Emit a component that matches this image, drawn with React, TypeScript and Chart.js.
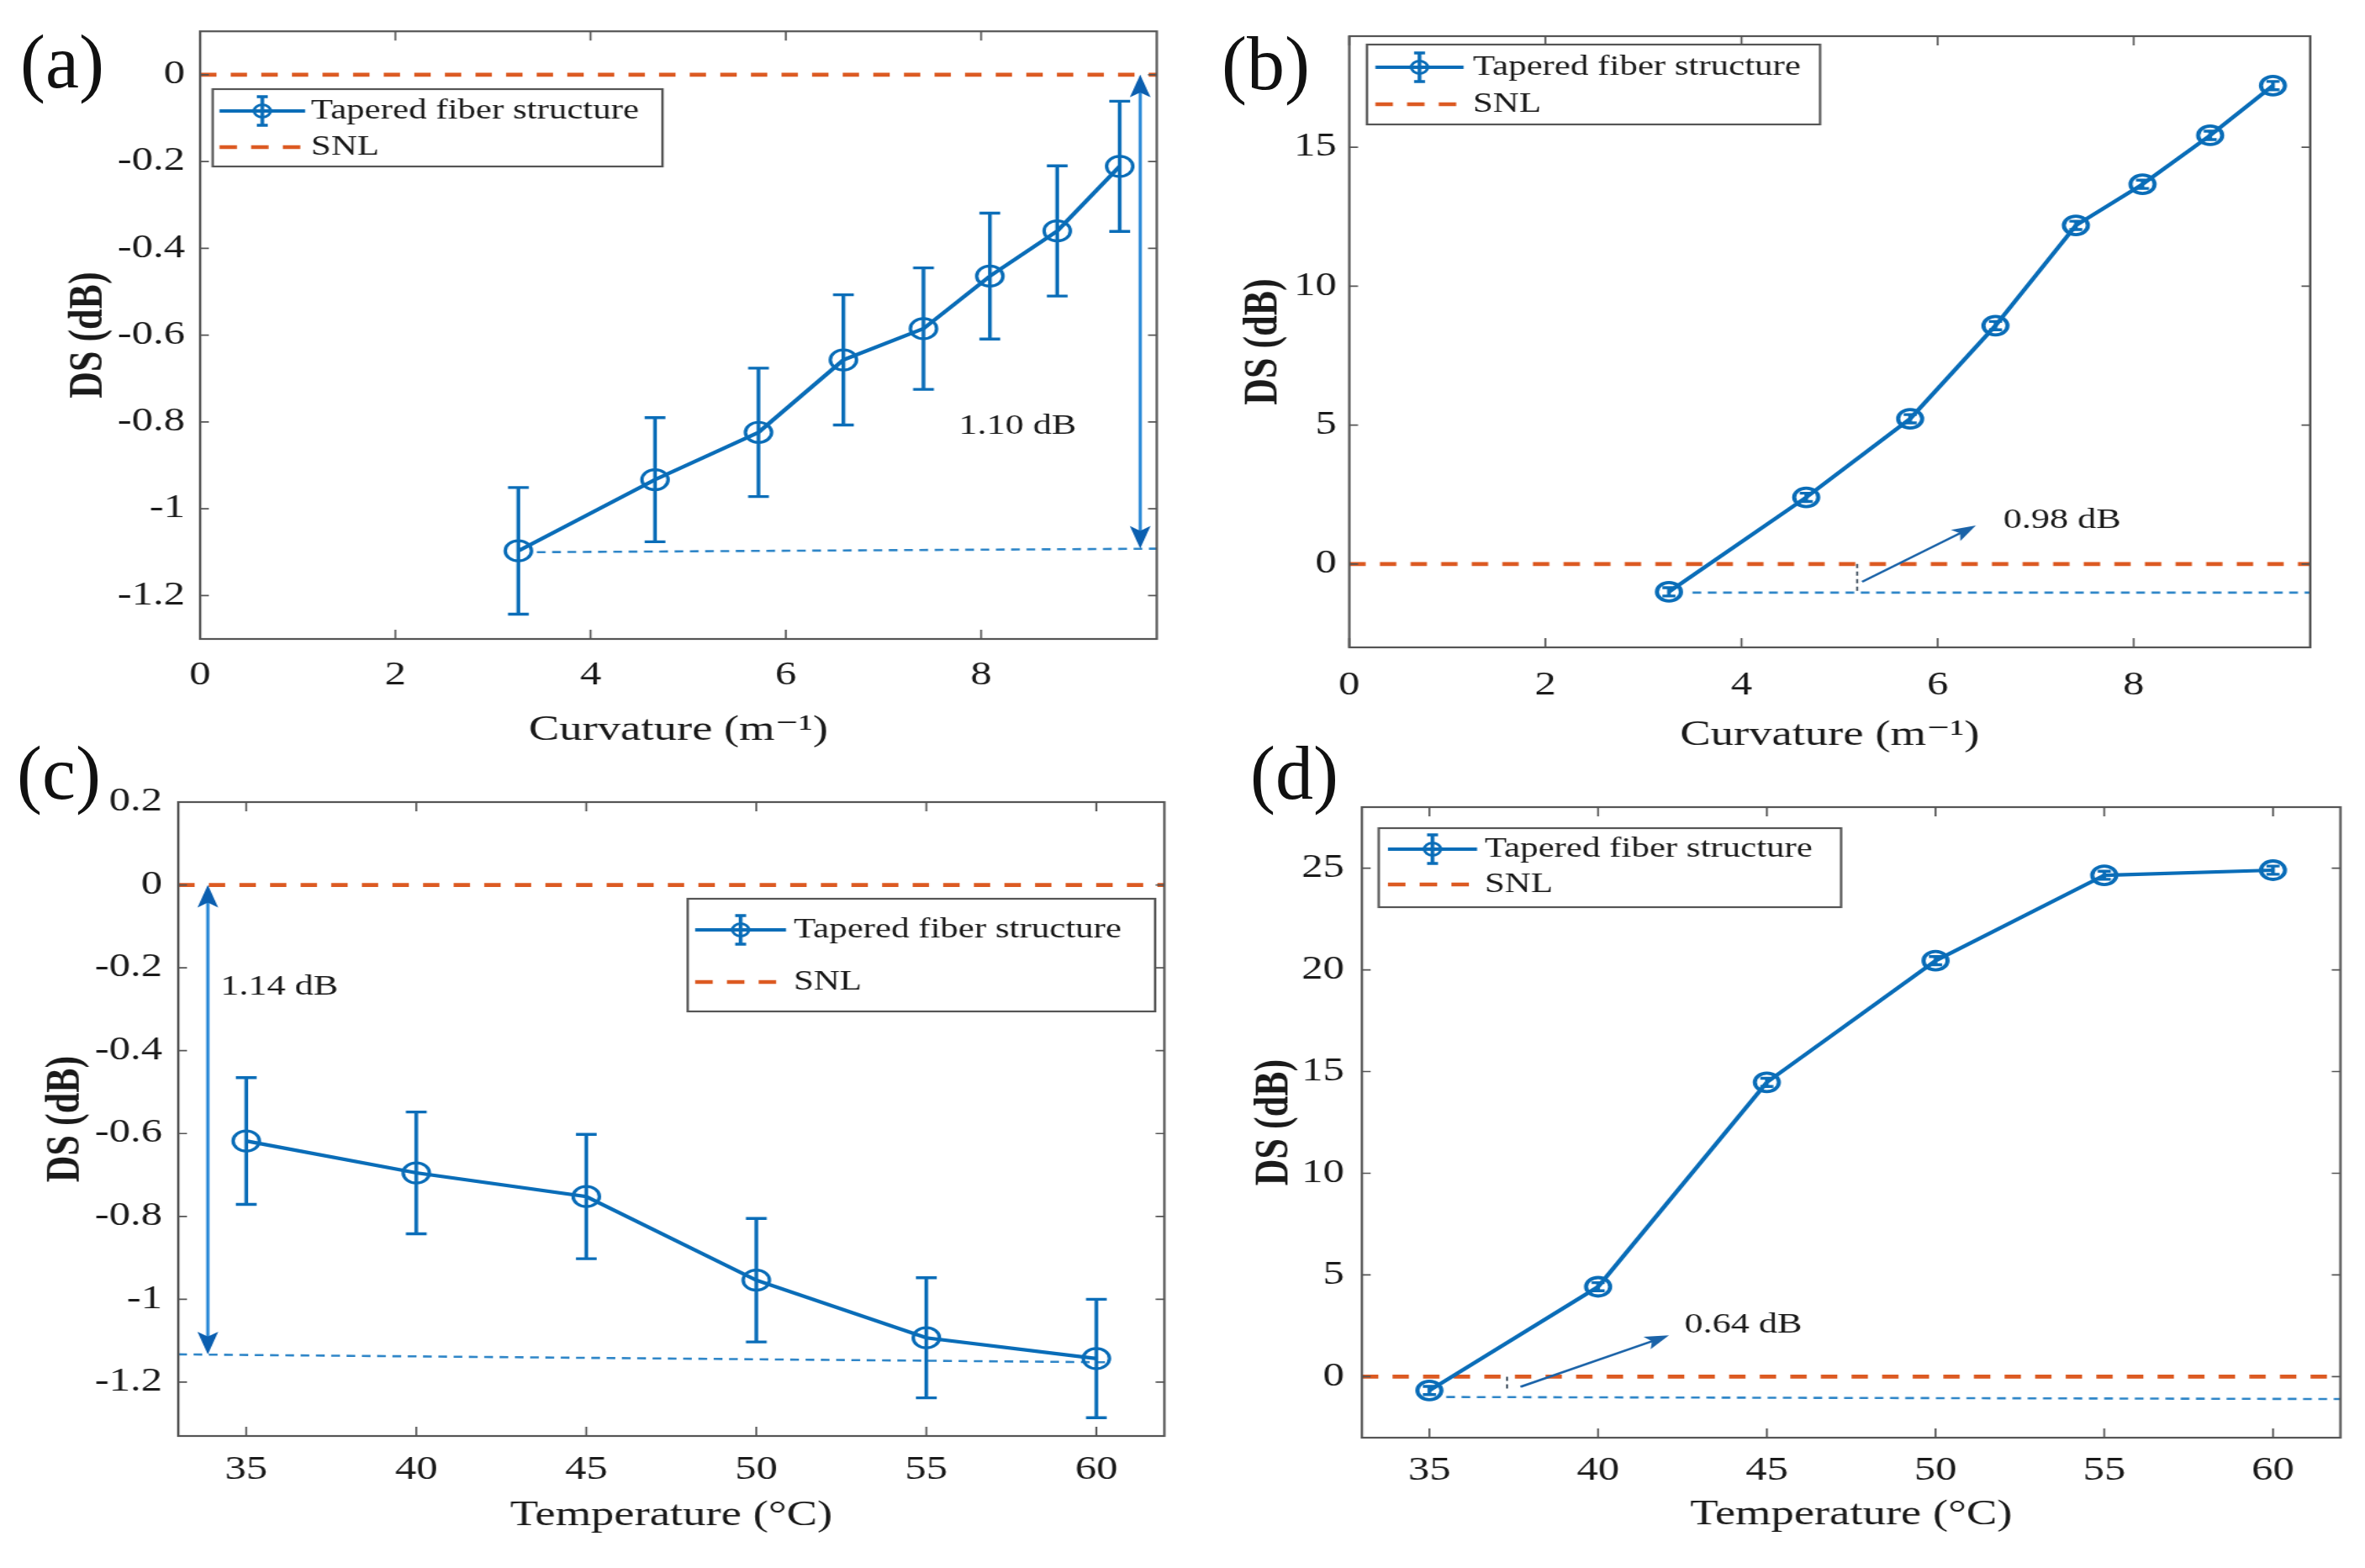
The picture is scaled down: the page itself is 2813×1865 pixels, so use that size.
import React, { useEffect, useRef } from 'react';
import { Chart, registerables } from 'chart.js';

Chart.register(...registerables);

// ---------- page geometry (the reference is stretched horizontally) ----------
const PAGE_W = 2813;
const PAGE_H = 1865;
const SX = 1.3;
const CW = Math.round(PAGE_W / SX);

const FONT = "'Liberation Serif', 'Times New Roman', 'DejaVu Serif', serif";
const TEXT = '#1a1a1a';
const BOX = '#555555';
const BLUE = '#0a6db8';
const BLUE_DASH = '#2f86c8';
const ORANGE = '#dc5a22';

// ---------- data ----------
const curvature = [3.26, 4.66, 5.72, 6.59, 7.41, 8.09, 8.78, 9.42];
const dsCurvatureA = [-1.097, -0.933, -0.824, -0.657, -0.585, -0.464, -0.36, -0.211];
const errCurvatureA = [0.146, 0.143, 0.148, 0.15, 0.14, 0.145, 0.15, 0.15];
const dsCurvatureB = [-1.0, 2.4, 5.23, 8.58, 12.19, 13.67, 15.43, 17.22];
const errCurvatureB = [0.15, 0.15, 0.15, 0.15, 0.15, 0.15, 0.15, 0.15];

const temperature = [35, 40, 45, 50, 55, 60];
const dsTemperatureC = [-0.618, -0.695, -0.752, -0.954, -1.093, -1.143];
const errTemperatureC = [0.153, 0.147, 0.15, 0.149, 0.145, 0.143];
const dsTemperatureD = [-0.68, 4.42, 14.47, 20.45, 24.65, 24.9];
const errTemperatureD = [0.2, 0.2, 0.2, 0.2, 0.2, 0.2];

const curvatureTicks = [0, 2, 4, 6, 8];
const temperatureTicks = [35, 40, 45, 50, 55, 60];
const yTicksA = [-1.2, -1, -0.8, -0.6, -0.4, -0.2, 0];
const yTicksB = [0, 5, 10, 15];
const yTicksC = [-1.2, -1, -0.8, -0.6, -0.4, -0.2, 0, 0.2];
const yTicksD = [0, 5, 10, 15, 20, 25];

const snlLevel = 0;
const baselineAx = [3.45, 9.8];
const baselineAy = [-1.1, -1.092];
const baselineBx = [3.5, 9.8];
const baselineBy = [-1.03, -1.03];
const baselineCx = [33, 60.3];
const baselineCy = [-1.133, -1.152];
const baselineDx = [35.5, 62];
const baselineDy = [-1.0, -1.1];

const seriesLabel = 'Tapered fiber structure';
const snlLabel = 'SNL';

// ---------- types ----------
type Annot =
  | { kind: 'arrow'; x0: number; y0: number; x1: number; y1: number; both: boolean; color: string; head: string; width: number; headLen: number; headW: number }
  | { kind: 'seg'; x0: number; y0: number; x1: number; y1: number; color: string; width: number; dash: number[] }
  | { kind: 'text'; x: number; y: number; text: string };

interface PanelDef {
  id: string;
  label: string;
  labelLeft: number;
  labelBaseline: number;
  xs: number[];
  ys: number[];
  errs: number[];
  capW: number;
  markerR: number;
  markerW: number;
  xMin: number;
  xMax: number;
  yMin: number;
  yMax: number;
  xTicks: number[];
  yTicks: number[];
  plot: { l: number; r: number; t: number; b: number };
  xTitle: string;
  yTitle: string;
  xTitleCY: number;
  yTitleCX: number;
  xTickGap: number;
  yTickGap: number;
  baseX: number[];
  baseY: number[];
  legend: { l: number; t: number; r: number; b: number; row1: number; row2: number; lineL: number; lineR: number; textL: number };
  annots: Annot[];
}

const panels: PanelDef[] = [
  {
    id: 'a', label: '(a)', labelLeft: 24, labelBaseline: 104,
    xs: curvature, ys: dsCurvatureA, errs: errCurvatureA, capW: 9.5, markerR: 12, markerW: 3.2,
    xMin: 0, xMax: 9.8, yMin: -1.3, yMax: 0.1,
    xTicks: curvatureTicks, yTicks: yTicksA,
    plot: { l: 238, r: 1376, t: 37, b: 760 },
    xTitle: 'Curvature (m\u207B\u00B9)', yTitle: 'DS (dB)', xTitleCY: 869, yTitleCX: 106,
    xTickGap: 20, yTickGap: 18,
    baseX: baselineAx, baseY: baselineAy,
    legend: { l: 253, t: 106, r: 788, b: 198, row1: 132, row2: 175, lineL: 261, lineR: 363, textL: 370 },
    annots: [
      { kind: 'arrow', x0: 9.63, y0: 0, x1: 9.63, y1: -1.092, both: true, color: '#2b8ad8', head: '#0b5fb0', width: 3, headLen: 27, headW: 9.5 },
      { kind: 'text', x: 7.77, y: -0.81, text: '1.10 dB' },
    ],
  },
  {
    id: 'b', label: '(b)', labelLeft: 1453, labelBaseline: 106,
    xs: curvature, ys: dsCurvatureB, errs: errCurvatureB, capW: 6, markerR: 11, markerW: 3.8,
    xMin: 0, xMax: 9.8, yMin: -3, yMax: 19,
    xTicks: curvatureTicks, yTicks: yTicksB,
    plot: { l: 1605, r: 2748, t: 43, b: 770 },
    xTitle: 'Curvature (m\u207B\u00B9)', yTitle: 'DS (dB)', xTitleCY: 875, yTitleCX: 1503,
    xTickGap: 22, yTickGap: 15,
    baseX: baselineBx, baseY: baselineBy,
    legend: { l: 1626, t: 53, r: 2165, b: 148, row1: 80, row2: 124, lineL: 1636, lineR: 1741, textL: 1752 },
    annots: [
      { kind: 'seg', x0: 5.18, y0: 0, x1: 5.18, y1: -1.03, color: '#3a4a5a', width: 1.8, dash: [5, 4] },
      { kind: 'arrow', x0: 5.23, y0: -0.64, x1: 6.39, y1: 1.39, both: false, color: '#1b63a8', head: '#1b63a8', width: 2.6, headLen: 22, headW: 8 },
      { kind: 'text', x: 6.67, y: 1.58, text: '0.98 dB' },
    ],
  },
  {
    id: 'c', label: '(c)', labelLeft: 20, labelBaseline: 950,
    xs: temperature, ys: dsTemperatureC, errs: errTemperatureC, capW: 9.5, markerR: 12, markerW: 3.2,
    xMin: 33, xMax: 62, yMin: -1.33, yMax: 0.2,
    xTicks: temperatureTicks, yTicks: yTicksC,
    plot: { l: 212, r: 1385, t: 954, b: 1708 },
    xTitle: 'Temperature (\u00B0C)', yTitle: 'DS (dB)', xTitleCY: 1803, yTitleCX: 79,
    xTickGap: 17, yTickGap: 19,
    baseX: baselineCx, baseY: baselineCy,
    legend: { l: 818, t: 1069, r: 1374, b: 1203, row1: 1106, row2: 1168, lineL: 827, lineR: 935, textL: 944 },
    annots: [
      { kind: 'arrow', x0: 33.87, y0: 0, x1: 33.87, y1: -1.133, both: true, color: '#2b8ad8', head: '#0b5fb0', width: 3, headLen: 27, headW: 9.5 },
      { kind: 'text', x: 34.24, y: -0.246, text: '1.14 dB' },
    ],
  },
  {
    id: 'd', label: '(d)', labelLeft: 1487, labelBaseline: 950,
    xs: temperature, ys: dsTemperatureD, errs: errTemperatureD, capW: 6, markerR: 11, markerW: 3.8,
    xMin: 33, xMax: 62, yMin: -3, yMax: 28,
    xTicks: temperatureTicks, yTicks: yTicksD,
    plot: { l: 1620, r: 2784, t: 960, b: 1710 },
    xTitle: 'Temperature (\u00B0C)', yTitle: 'DS (dB)', xTitleCY: 1802, yTitleCX: 1516,
    xTickGap: 16, yTickGap: 21,
    baseX: baselineDx, baseY: baselineDy,
    legend: { l: 1640, t: 985, r: 2190, b: 1079, row1: 1010, row2: 1052, lineL: 1651, lineR: 1757, textL: 1766 },
    annots: [
      { kind: 'seg', x0: 37.3, y0: 0, x1: 37.3, y1: -0.6, color: '#3a4a5a', width: 1.8, dash: [5, 4] },
      { kind: 'arrow', x0: 37.7, y0: -0.5, x1: 42.1, y1: 2.03, both: false, color: '#1b63a8', head: '#1b63a8', width: 2.6, headLen: 22, headW: 8 },
      { kind: 'text', x: 42.56, y: 2.52, text: '0.64 dB' },
    ],
  },
];

// ---------- drawing helpers ----------
function arrowHead(ctx: CanvasRenderingContext2D, tx: number, ty: number, ang: number, len: number, hw: number, color: string) {
  const c = Math.cos(ang), s = Math.sin(ang);
  const bx = tx - c * len, by = ty - s * len;
  const px = -s * hw, py = c * hw;
  ctx.beginPath();
  ctx.moveTo(tx, ty);
  ctx.lineTo(bx + px, by + py);
  ctx.lineTo(tx - c * len * 0.78, ty - s * len * 0.78);
  ctx.lineTo(bx - px, by - py);
  ctx.closePath();
  ctx.fillStyle = color;
  ctx.fill();
}

function fmtTick(v: number | string) {
  return String(Math.round(Number(v) * 100) / 100);
}

function buildConfig(p: PanelDef) {
  const YW = 150;
  const XH = 150;
  const L = p.plot.l / SX;
  const R = p.plot.r / SX;
  const tickFont = { family: FONT, size: 39 };
  const xTitleFont = { family: FONT, size: 42 };
  const yTitleFont = { family: FONT, size: 44, weight: 'bold' as const };
  const yTitlePad = p.yTitleCX / SX - (L - YW) - (44 * 1.2) / 2;
  const xTitlePad = p.plot.b + XH - p.xTitleCY - (42 * 1.2) / 2;

  const errorBars = {
    id: 'errorBars' + p.id,
    afterDatasetsDraw(chart: any) {
      const ctx: CanvasRenderingContext2D = chart.ctx;
      const xs = chart.scales.x, ys = chart.scales.y;
      ctx.save();
      ctx.strokeStyle = BLUE;
      ctx.lineWidth = 3.4;
      ctx.setLineDash([]);
      p.xs.forEach((xv, i) => {
        const px = xs.getPixelForValue(xv);
        const top = ys.getPixelForValue(p.ys[i] + p.errs[i]);
        const bot = ys.getPixelForValue(p.ys[i] - p.errs[i]);
        ctx.beginPath();
        ctx.moveTo(px, top);
        ctx.lineTo(px, bot);
        ctx.moveTo(px - p.capW, top);
        ctx.lineTo(px + p.capW, top);
        ctx.moveTo(px - p.capW, bot);
        ctx.lineTo(px + p.capW, bot);
        ctx.stroke();
      });
      ctx.restore();
    },
  };

  const annotations = {
    id: 'annots' + p.id,
    afterDatasetsDraw(chart: any) {
      const ctx: CanvasRenderingContext2D = chart.ctx;
      const xs = chart.scales.x, ys = chart.scales.y;
      ctx.save();
      for (const a of p.annots) {
        if (a.kind === 'text') {
          ctx.font = `34px ${FONT}`;
          ctx.fillStyle = TEXT;
          ctx.textAlign = 'left';
          ctx.textBaseline = 'middle';
          ctx.fillText(a.text, xs.getPixelForValue(a.x), ys.getPixelForValue(a.y));
        } else if (a.kind === 'seg') {
          ctx.strokeStyle = a.color;
          ctx.lineWidth = a.width;
          ctx.setLineDash(a.dash);
          ctx.beginPath();
          ctx.moveTo(xs.getPixelForValue(a.x0), ys.getPixelForValue(a.y0));
          ctx.lineTo(xs.getPixelForValue(a.x1), ys.getPixelForValue(a.y1));
          ctx.stroke();
          ctx.setLineDash([]);
        } else {
          const x0 = xs.getPixelForValue(a.x0), y0 = ys.getPixelForValue(a.y0);
          const x1 = xs.getPixelForValue(a.x1), y1 = ys.getPixelForValue(a.y1);
          const ang = Math.atan2(y1 - y0, x1 - x0);
          const c = Math.cos(ang), s = Math.sin(ang);
          const inset = a.headLen * 0.7;
          const sx = a.both ? x0 + c * inset : x0;
          const sy = a.both ? y0 + s * inset : y0;
          ctx.strokeStyle = a.color;
          ctx.lineWidth = a.width;
          ctx.setLineDash([]);
          ctx.beginPath();
          ctx.moveTo(sx, sy);
          ctx.lineTo(x1 - c * inset, y1 - s * inset);
          ctx.stroke();
          arrowHead(ctx, x1, y1, ang, a.headLen, a.headW, a.head);
          if (a.both) arrowHead(ctx, x0, y0, ang + Math.PI, a.headLen, a.headW, a.head);
        }
      }
      ctx.restore();
    },
  };

  const boxAndLegend = {
    id: 'box' + p.id,
    afterDraw(chart: any) {
      const ctx: CanvasRenderingContext2D = chart.ctx;
      const area = chart.chartArea;
      const xs = chart.scales.x, ys = chart.scales.y;
      ctx.save();
      ctx.setLineDash([]);
      // axes box
      ctx.strokeStyle = BOX;
      ctx.lineWidth = 2.2;
      ctx.strokeRect(area.left, area.top, area.right - area.left, area.bottom - area.top);
      // inward ticks on all sides
      ctx.lineWidth = 1.7;
      ctx.beginPath();
      for (const v of p.xTicks) {
        const px = xs.getPixelForValue(v);
        ctx.moveTo(px, area.bottom);
        ctx.lineTo(px, area.bottom - 11);
        ctx.moveTo(px, area.top);
        ctx.lineTo(px, area.top + 11);
      }
      for (const v of p.yTicks) {
        const py = ys.getPixelForValue(v);
        ctx.moveTo(area.left, py);
        ctx.lineTo(area.left + 8, py);
        ctx.moveTo(area.right, py);
        ctx.lineTo(area.right - 8, py);
      }
      ctx.stroke();

      // legend
      const lg = p.legend;
      const l = lg.l / SX, r = lg.r / SX;
      ctx.fillStyle = '#ffffff';
      ctx.fillRect(l, lg.t, r - l, lg.b - lg.t);
      ctx.strokeStyle = BOX;
      ctx.lineWidth = 2.2;
      ctx.strokeRect(l, lg.t, r - l, lg.b - lg.t);
      const ll = lg.lineL / SX, lr = lg.lineR / SX, mid = (ll + lr) / 2;
      // row 1: line + errorbar + circle
      ctx.strokeStyle = BLUE;
      ctx.lineWidth = 4;
      ctx.beginPath();
      ctx.moveTo(ll, lg.row1);
      ctx.lineTo(lr, lg.row1);
      ctx.stroke();
      ctx.lineWidth = 3.4;
      ctx.beginPath();
      ctx.moveTo(mid, lg.row1 - 17);
      ctx.lineTo(mid, lg.row1 + 17);
      ctx.moveTo(mid - 5, lg.row1 - 17);
      ctx.lineTo(mid + 5, lg.row1 - 17);
      ctx.moveTo(mid - 5, lg.row1 + 17);
      ctx.lineTo(mid + 5, lg.row1 + 17);
      ctx.stroke();
      ctx.lineWidth = 2.8;
      ctx.beginPath();
      ctx.arc(mid, lg.row1, 7.5, 0, Math.PI * 2);
      ctx.stroke();
      // row 2: dashed SNL
      ctx.strokeStyle = ORANGE;
      ctx.lineWidth = 4.5;
      ctx.setLineDash([16, 13]);
      ctx.beginPath();
      ctx.moveTo(ll, lg.row2);
      ctx.lineTo(lr, lg.row2);
      ctx.stroke();
      ctx.setLineDash([]);
      // texts
      ctx.font = `33px ${FONT}`;
      ctx.fillStyle = TEXT;
      ctx.textAlign = 'left';
      ctx.textBaseline = 'middle';
      ctx.fillText(seriesLabel, lg.textL / SX, lg.row1);
      ctx.fillText(snlLabel, lg.textL / SX, lg.row2);
      ctx.restore();
    },
  };

  return {
    type: 'line',
    data: {
      datasets: [
        {
          label: seriesLabel,
          data: p.xs.map((x, i) => ({ x, y: p.ys[i] })),
          borderColor: BLUE,
          borderWidth: 4.2,
          pointStyle: 'circle',
          pointRadius: p.markerR,
          pointBorderWidth: p.markerW,
          pointBorderColor: BLUE,
          pointBackgroundColor: 'rgba(255,255,255,0)',
          tension: 0,
          fill: false,
        },
        {
          label: snlLabel,
          data: [
            { x: p.xMin, y: snlLevel },
            { x: p.xMax, y: snlLevel },
          ],
          borderColor: ORANGE,
          borderWidth: 4.8,
          borderDash: [15, 13],
          pointRadius: 0,
          fill: false,
        },
        {
          label: 'reference',
          data: p.baseX.map((x, i) => ({ x, y: p.baseY[i] })),
          borderColor: BLUE_DASH,
          borderWidth: 2.6,
          borderDash: [8, 6],
          pointRadius: 0,
          fill: false,
        },
      ],
    },
    options: {
      animation: false,
      responsive: false,
      devicePixelRatio: 1,
      events: [],
      layout: {
        padding: {
          left: L - YW,
          right: CW - R,
          top: p.plot.t,
          bottom: PAGE_H - p.plot.b - XH,
        },
      },
      plugins: {
        legend: { display: false },
        tooltip: { enabled: false },
        title: { display: false },
      },
      scales: {
        x: {
          type: 'linear',
          position: 'bottom',
          min: p.xMin,
          max: p.xMax,
          afterBuildTicks: (s: any) => {
            s.ticks = p.xTicks.map((v) => ({ value: v }));
          },
          afterFit: (s: any) => {
            s.height = XH;
          },
          grid: { display: false, drawTicks: false },
          border: { display: false },
          ticks: {
            font: tickFont,
            color: TEXT,
            padding: p.xTickGap,
            maxRotation: 0,
            autoSkip: false,
            callback: fmtTick,
          },
          title: {
            display: true,
            text: p.xTitle,
            font: xTitleFont,
            color: TEXT,
            padding: { top: 0, bottom: xTitlePad },
          },
        },
        y: {
          type: 'linear',
          position: 'left',
          min: p.yMin,
          max: p.yMax,
          afterBuildTicks: (s: any) => {
            s.ticks = p.yTicks.map((v) => ({ value: v }));
          },
          afterFit: (s: any) => {
            s.width = YW;
          },
          grid: { display: false, drawTicks: false },
          border: { display: false },
          ticks: {
            font: tickFont,
            color: TEXT,
            padding: p.yTickGap / SX,
            autoSkip: false,
            callback: fmtTick,
          },
          title: {
            display: true,
            text: p.yTitle,
            font: yTitleFont,
            color: TEXT,
            padding: { top: yTitlePad, bottom: 0 },
          },
        },
      },
    },
    plugins: [errorBars, annotations, boxAndLegend],
  };
}

function PanelChart({ def }: { def: PanelDef }) {
  const ref = useRef<HTMLCanvasElement | null>(null);
  useEffect(() => {
    const canvas = ref.current;
    if (!canvas) return;
    const chart = new Chart(canvas, buildConfig(def) as any);
    return () => chart.destroy();
  }, [def]);
  return (
    <canvas
      ref={ref}
      width={CW}
      height={PAGE_H}
      style={{ position: 'absolute', left: 0, top: 0, width: PAGE_W + 'px', height: PAGE_H + 'px' }}
    />
  );
}

export default function App() {
  return (
    <div
      style={{
        position: 'absolute',
        left: 0,
        top: 0,
        width: PAGE_W,
        height: PAGE_H,
        background: '#ffffff',
        overflow: 'hidden',
      }}
    >
      {panels.map((p) => (
        <PanelChart key={p.id} def={p} />
      ))}
      {panels.map((p) => (
        <div
          key={'lbl' + p.id}
          style={{
            position: 'absolute',
            left: p.labelLeft,
            top: p.labelBaseline - 75,
            fontFamily: FONT,
            fontSize: 90,
            lineHeight: '90px',
            color: '#111111',
            whiteSpace: 'nowrap',
          }}
        >
          {p.label}
        </div>
      ))}
    </div>
  );
}
